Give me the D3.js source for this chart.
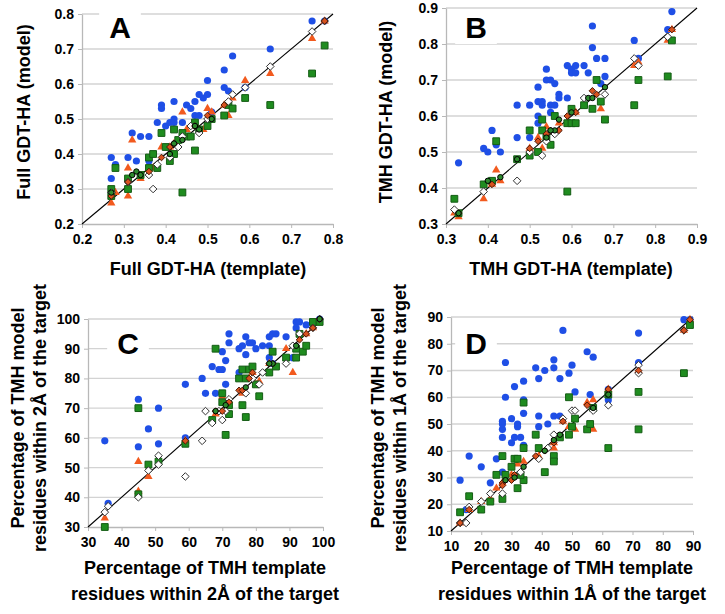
<!DOCTYPE html>
<html><head><meta charset="utf-8">
<script src="https://cdn.jsdelivr.net/npm/d3@7"></script>
<style>
html,body{margin:0;padding:0;background:#fff;}
svg text{font-family:"Liberation Sans",Arial,Helvetica,sans-serif;font-weight:bold;fill:#000;}
</style></head>
<body><svg id="chart" width="725" height="614"></svg>
<script>
// ---------- tick labels ----------
const ticksA = [0.2,0.3,0.4,0.5,0.6,0.7,0.8];
const ticksB = [0.3,0.4,0.5,0.6,0.7,0.8,0.9];
const ticksC = [30,40,50,60,70,80,90,100];
const ticksD = [10,20,30,40,50,60,70,80,90];

// ---------- Panel A: Full GDT-HA [template, model] ----------
const A_blue = [[0.27,0.39],[0.27,0.33],[0.28,0.37],[0.31,0.39],[0.33,0.38],[0.32,0.46],[0.34,0.45],[0.36,0.45],[0.36,0.38],[0.39,0.54],[0.39,0.53],[0.38,0.49],[0.40,0.48],[0.41,0.49],[0.42,0.55],[0.42,0.50],[0.42,0.49],[0.44,0.49],[0.45,0.54],[0.46,0.53],[0.47,0.55],[0.47,0.51],[0.48,0.51],[0.48,0.57],[0.49,0.56],[0.50,0.57],[0.50,0.61],[0.51,0.52],[0.54,0.59],[0.54,0.64],[0.55,0.58],[0.56,0.68],[0.59,0.59],[0.65,0.70],[0.75,0.78],[0.78,0.78]];
const A_orange = [[0.27,0.26],[0.28,0.29],[0.31,0.28],[0.31,0.36],[0.32,0.44],[0.34,0.33],[0.37,0.36],[0.39,0.42],[0.41,0.42],[0.44,0.52],[0.45,0.47],[0.49,0.47],[0.50,0.53],[0.51,0.52],[0.55,0.51],[0.56,0.56],[0.59,0.61],[0.65,0.63],[0.75,0.73],[0.78,0.78],[0.54,0.54],[0.42,0.43],[0.47,0.48]];
const A_green = [[0.27,0.30],[0.27,0.28],[0.28,0.36],[0.31,0.33],[0.31,0.30],[0.34,0.34],[0.36,0.39],[0.36,0.36],[0.37,0.40],[0.39,0.46],[0.38,0.36],[0.40,0.42],[0.41,0.38],[0.42,0.47],[0.42,0.40],[0.43,0.44],[0.44,0.29],[0.45,0.45],[0.46,0.45],[0.47,0.41],[0.47,0.49],[0.48,0.47],[0.50,0.48],[0.51,0.50],[0.54,0.51],[0.55,0.54],[0.56,0.53],[0.59,0.56],[0.65,0.54],[0.75,0.63],[0.78,0.71],[0.44,0.46]];
const A_white = [[0.27,0.29],[0.31,0.32],[0.36,0.34],[0.37,0.30],[0.38,0.37],[0.41,0.39],[0.43,0.42],[0.44,0.45],[0.48,0.46],[0.50,0.50],[0.55,0.55],[0.56,0.57],[0.59,0.59],[0.65,0.65],[0.75,0.75],[0.78,0.78],[0.46,0.48]];
const A_red = [[0.31,0.32],[0.39,0.39],[0.41,0.42],[0.42,0.43],[0.47,0.48],[0.50,0.51],[0.54,0.54],[0.78,0.78],[0.27,0.28],[0.36,0.35]];
const A_dgreen = [[0.32,0.34],[0.33,0.35],[0.34,0.34],[0.41,0.40],[0.42,0.43],[0.47,0.48],[0.48,0.47],[0.51,0.50],[0.27,0.29],[0.44,0.44]];

// ---------- Panel B: TMH GDT-HA ----------
const B_blue = [[0.33,0.47],[0.39,0.51],[0.40,0.50],[0.41,0.56],[0.42,0.52],[0.43,0.50],[0.47,0.63],[0.47,0.54],[0.50,0.63],[0.50,0.54],[0.52,0.68],[0.52,0.64],[0.52,0.60],[0.52,0.58],[0.53,0.64],[0.53,0.63],[0.54,0.73],[0.54,0.70],[0.55,0.70],[0.55,0.63],[0.55,0.61],[0.56,0.69],[0.56,0.63],[0.57,0.66],[0.57,0.65],[0.59,0.65],[0.59,0.74],[0.60,0.73],[0.60,0.72],[0.61,0.74],[0.61,0.72],[0.63,0.74],[0.64,0.72],[0.65,0.85],[0.65,0.79],[0.66,0.76],[0.68,0.76],[0.68,0.71],[0.67,0.69],[0.75,0.81],[0.76,0.76],[0.83,0.84],[0.84,0.89]];
const B_orange = [[0.32,0.33],[0.33,0.32],[0.39,0.37],[0.42,0.45],[0.43,0.42],[0.41,0.41],[0.52,0.54],[0.53,0.51],[0.54,0.57],[0.57,0.58],[0.63,0.63],[0.67,0.62],[0.75,0.74],[0.83,0.81],[0.84,0.84],[0.76,0.75],[0.61,0.61],[0.50,0.51]];
const B_green = [[0.32,0.37],[0.33,0.33],[0.39,0.41],[0.41,0.42],[0.42,0.53],[0.47,0.48],[0.50,0.56],[0.50,0.49],[0.52,0.50],[0.53,0.59],[0.53,0.56],[0.55,0.52],[0.56,0.60],[0.59,0.58],[0.59,0.39],[0.60,0.62],[0.60,0.58],[0.61,0.58],[0.63,0.63],[0.65,0.62],[0.66,0.70],[0.67,0.64],[0.68,0.59],[0.75,0.63],[0.76,0.70],[0.83,0.71],[0.84,0.81],[0.54,0.54]];
const B_white = [[0.32,0.34],[0.39,0.39],[0.47,0.42],[0.53,0.49],[0.56,0.55],[0.63,0.65],[0.68,0.66],[0.75,0.76],[0.76,0.74],[0.83,0.82],[0.50,0.50],[0.54,0.53]];
const B_red = [[0.33,0.33],[0.41,0.41],[0.50,0.51],[0.52,0.53],[0.54,0.55],[0.57,0.56],[0.59,0.60],[0.61,0.61],[0.65,0.67],[0.66,0.66],[0.84,0.84],[0.55,0.56]];
const B_dgreen = [[0.33,0.33],[0.40,0.42],[0.43,0.43],[0.47,0.48],[0.54,0.54],[0.56,0.56],[0.57,0.59],[0.60,0.61],[0.64,0.65],[0.65,0.65],[0.68,0.68],[0.55,0.56]];

// ---------- Panel C: % residues within 2 Å ----------
const C_blue = [[35,59],[36,38],[45,73],[45,57],[48,63],[51,70],[51,58],[59,78],[59,60],[64,80],[65,75],[67,84],[68,75],[69,83],[70,83],[70,89],[71,86],[71,78],[72,95],[72,92],[75,90],[75,82],[76,91],[77,94],[77,88],[78,92],[79,92],[80,90],[82,91],[84,94],[84,91],[85,95],[86,95],[84,87],[89,94],[92,99],[93,99],[95,98],[99,100],[91,87],[92,97],[85,85]];
const C_orange = [[35,33],[45,52],[45,42],[48,47],[59,59],[70,74],[76,75],[80,78],[81,79],[89,90],[91,82],[95,95],[97,97],[68,68],[79,82],[84,85]];
const C_green = [[35,30],[45,70],[45,41],[48,51],[51,52],[59,58],[67,66],[68,90],[70,75],[70,72],[71,61],[72,71],[72,68],[75,80],[76,83],[76,71],[77,67],[77,80],[78,83],[79,84],[81,74],[84,82],[85,89],[86,84],[89,87],[92,90],[92,87],[94,89],[95,91],[97,99],[99,99],[93,95],[80,78]];
const C_white = [[35,35],[36,37],[45,40],[48,49],[51,54],[51,51],[59,47],[64,59],[65,69],[67,65],[70,66],[69,69],[72,73],[77,75],[79,80],[81,78],[82,82],[89,85],[91,91],[93,95],[97,97],[99,100],[71,69]];
const C_red = [[59,59],[68,69],[70,69],[75,76],[76,76],[79,82],[84,85],[85,85],[93,93],[95,95],[97,97],[99,100],[78,80],[72,72]];
const C_dgreen = [[71,71],[77,77],[85,85],[84,85],[92,91],[99,100],[68,69]];

// ---------- Panel D: % residues within 1 Å ----------
const D_blue = [[13,29],[15,18],[16,38],[20,34],[23,28],[25,37],[27,32],[27,45],[27,48],[27,50],[27,51],[28,73],[28,60],[30,43],[30,52],[31,64],[31,45],[32,50],[32,49],[33,45],[34,66],[34,59],[34,54],[34,42],[38,71],[39,67],[39,49],[39,53],[41,70],[42,50],[44,53],[44,71],[44,74],[46,67],[46,53],[47,85],[49,69],[50,72],[51,62],[55,77],[56,61],[57,75],[62,63],[62,59],[72,84],[72,73],[87,89],[89,89]];
const D_orange = [[13,13],[16,18],[20,21],[23,22],[25,26],[27,28],[30,31],[32,35],[34,36],[39,38],[44,43],[44,41],[47,51],[49,49],[51,48],[55,58],[57,59],[57,48],[62,63],[72,70],[87,85],[89,89]];
const D_green = [[13,17],[16,23],[20,18],[23,21],[25,31],[27,38],[27,22],[28,31],[30,34],[31,37],[32,26],[32,37],[34,29],[34,58],[34,41],[38,46],[39,41],[41,32],[44,38],[44,36],[46,45],[49,60],[49,46],[50,49],[51,52],[55,48],[56,50],[57,56],[62,41],[62,61],[72,62],[72,48],[87,69],[89,87],[33,31]];
const D_white = [[13,13],[15,13],[16,19],[20,21],[23,24],[27,24],[33,32],[39,37],[42,41],[44,46],[47,52],[50,55],[51,55],[57,55],[62,57],[72,69],[72,72],[87,85]];
const D_red = [[13,13],[16,18],[27,28],[30,29],[31,31],[38,38],[41,40],[44,43],[47,51],[55,57],[62,63],[72,70],[87,85],[89,89],[27,27]];
const D_dgreen = [[28,29],[31,30],[34,34],[44,44],[46,46],[57,56],[62,61],[41,40]];

// ---------- panel titles ----------
const panelLetters = ["A","B","C","D"];
const xTitles = [["Full GDT-HA (template)"],["TMH GDT-HA (template)"],["Percentage of TMH template","residues within 2Å of the target"],["Percentage of TMH template","residues within 1Å of the target"]];
const yTitles = [["Full GDT-HA (model)"],["TMH GDT-HA (model)"],["Percentage of TMH model","residues within 2Å of the target"],["Percentage of TMH model","residues within 1Å of the target"]];

// ---------- drawing ----------
const svg = d3.select("#chart");
const styles = {
  blue:   {shape:"circle", fill:"#1f4fe6", stroke:"none", size:3.6},
  orange: {shape:"triangle", fill:"#f25a1e", stroke:"none", size:30},
  green:  {shape:"square", fill:"#1f8c1f", stroke:"#145c14", size:6.8},
  white:  {shape:"diamond", fill:"#ffffff", stroke:"#333333", size:3.8},
  red:    {shape:"diamond", fill:"#d8521f", stroke:"#4a1a08", size:3.3},
  dgreen: {shape:"circle", fill:"#2d8a2d", stroke:"#000000", size:2.7}
};

const panels = [
  {letter:0, dom:[0.2,0.8], ticks:ticksA, fmt:d3.format(".1f"), px:[82,333], py:[224,14],
   series:{blue:A_blue,orange:A_orange,green:A_green,white:A_white,red:A_red,dgreen:A_dgreen},
   letterPos:[120,38], xt:[208,[275]], yt:[112,[30]]},
  {letter:1, dom:[0.3,0.9], ticks:ticksB, fmt:d3.format(".1f"), px:[446,697], py:[224,8],
   series:{blue:B_blue,orange:B_orange,green:B_green,white:B_white,red:B_red,dgreen:B_dgreen},
   letterPos:[476,38], xt:[571,[275]], yt:[112,[392]]},
  {letter:2, dom:[30,100], ticks:ticksC, fmt:d3.format("d"), px:[88,323], py:[527,319],
   series:{blue:C_blue,orange:C_orange,green:C_green,white:C_white,red:C_red,dgreen:C_dgreen},
   letterPos:[128,354], xt:[205,[574,600]], yt:[418,[24,46]]},
  {letter:3, dom:[10,90], ticks:ticksD, fmt:d3.format("d"), px:[451,693], py:[531,317],
   series:{blue:D_blue,orange:D_orange,green:D_green,white:D_white,red:D_red,dgreen:D_dgreen},
   letterPos:[476,354], xt:[572,[574,600]], yt:[418,[384,406]]}
];

panels.forEach(p => {
  const x = d3.scaleLinear().domain(p.dom).range(p.px);
  const y = d3.scaleLinear().domain(p.dom).range(p.py);
  const g = svg.append("g");

  // gridlines
  g.append("g").selectAll("line").data(p.ticks.slice(1)).join("line")
    .attr("x1", p.px[0]).attr("x2", p.px[1])
    .attr("y1", d => y(d)).attr("y2", d => y(d))
    .attr("stroke", "#d3d3d3").attr("stroke-width", 1.3);

  // panel letter with white box
  const lt = g.append("text").attr("x", p.letterPos[0]).attr("y", p.letterPos[1])
    .attr("text-anchor","middle").style("font-size","30px").text(panelLetters[p.letter]);
  const bb = lt.node().getBBox();
  g.insert("rect", "text").attr("x", bb.x-10).attr("y", bb.y).attr("width", bb.width+20).attr("height", bb.height).attr("fill","#fff");

  // axes
  const ax = g.append("g").attr("transform", `translate(0,${p.py[0]})`)
    .call(d3.axisBottom(x).tickValues(p.ticks).tickFormat(p.fmt).tickSize(4).tickSizeOuter(0).tickPadding(6));
  const ay = g.append("g").attr("transform", `translate(${p.px[0]},0)`)
    .call(d3.axisLeft(y).tickValues(p.ticks).tickFormat(p.fmt).tickSize(4).tickSizeOuter(0).tickPadding(4));
  [ax, ay].forEach(a => {
    a.select(".domain").attr("stroke", "#b8b8b8").attr("stroke-width", 1.3);
    a.selectAll(".tick line").attr("stroke", "#b8b8b8");
    a.selectAll(".tick text").style("font-size","14px").style("font-family","'Liberation Sans',Arial,sans-serif").style("font-weight","bold").attr("fill","#000");
  });

  // diagonal
  g.append("line").attr("x1", x(p.dom[0])).attr("y1", y(p.dom[0]))
    .attr("x2", x(p.dom[1])).attr("y2", y(p.dom[1]))
    .attr("stroke", "#000").attr("stroke-width", 1.1);

  // markers
  ["blue","orange","green","white","red","dgreen"].forEach(key => {
    const st = styles[key];
    const data = p.series[key];
    const sel = g.append("g").selectAll("path").data(data).join("path")
      .attr("transform", d => `translate(${x(d[0])},${y(d[1])})`)
      .attr("fill", st.fill).attr("stroke", st.stroke).attr("stroke-width", 1);
    if (st.shape === "circle") sel.attr("d", d3.symbol(d3.symbolCircle, Math.PI*st.size*st.size)());
    else if (st.shape === "triangle") sel.attr("d", d3.symbol(d3.symbolTriangle, st.size)());
    else if (st.shape === "square") { const h = st.size/2; sel.attr("d", `M${-h},${-h}H${h}V${h}H${-h}Z`); }
    else if (st.shape === "diamond") { const r = st.size; sel.attr("d", `M0,${-r}L${r},0L0,${r}L${-r},0Z`); }
  });

  // x title
  xTitles[p.letter].forEach((t, i) => {
    g.append("text").attr("x", p.xt[0]).attr("y", p.xt[1][i]).attr("text-anchor","middle")
      .style("font-size","18px").text(t);
  });
  // y title
  yTitles[p.letter].forEach((t, i) => {
    g.append("text").attr("transform", `translate(${p.yt[1][i]},${p.yt[0]}) rotate(-90)`)
      .attr("text-anchor","middle").style("font-size","18px").text(t);
  });
});
</script></body></html>
